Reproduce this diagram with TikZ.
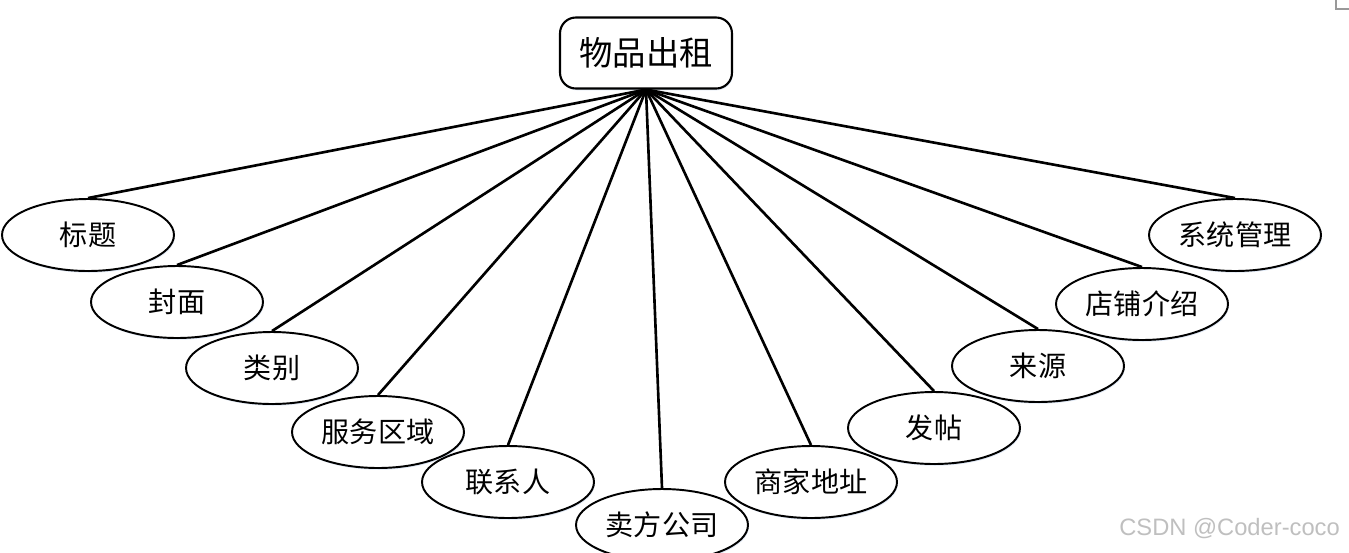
\documentclass[tikz,border=0pt]{standalone}
\usepackage{fontspec}
\setmainfont{Liberation Sans}
\newfontfamily\cjk{Noto Sans CJK SC}
\usetikzlibrary{shapes.geometric,shadows}
\definecolor{glow}{HTML}{C9D8EE}

\begin{document}
\begin{tikzpicture}[x=0.02cm,y=-0.02cm,
 attr/.style={ellipse,draw,line width=1.1pt,fill=white,minimum width=3.44cm,minimum height=1.44cm,inner sep=0pt,
  font=\cjk\fontsize{16}{16}\selectfont,
  drop shadow={shadow xshift=0.5pt,shadow yshift=-1pt,opacity=0.6,fill=glow}},
 entity/.style={draw,line width=1.2pt,rounded corners=9pt,fill=white,minimum width=3.44cm,minimum height=1.42cm,
  font=\cjk\fontsize{19}{19}\selectfont,
  drop shadow={shadow xshift=0.5pt,shadow yshift=-1pt,opacity=0.6,fill=glow}},
 link/.style={line width=1.5pt}]
 \useasboundingbox (0,0) rectangle (1349,552);
 % entity
 \node[entity] (rent) at (646,53) {物品出租};
 % attributes
 \node[attr] (title) at (88,235) {标题};
 \node[attr] (cover) at (177,302) {封面};
 \node[attr] (kind) at (272,368) {类别};
 \node[attr] (area) at (378,432) {服务区域};
 \node[attr] (contact) at (508,482) {联系人};
 \node[attr] (seller) at (662,525) {卖方公司};
 \node[attr] (addr) at (811,482) {商家地址};
 \node[attr] (post) at (934,428) {发帖};
 \node[attr] (source) at (1038,366) {来源};
 \node[attr] (shop) at (1142,304) {店铺介绍};
 \node[attr] (sys) at (1235,235) {系统管理};
 % connectors
 \foreach \a in {title,cover,kind,area,contact,seller,addr,post,source,shop,sys}
  \draw[link] (rent.south) -- (\a.north);
 \node[text=black!25,font=\fontsize{13.5}{13.5}\selectfont,anchor=east] (mark) at (1346,529) {CSDN @Coder-coco};
 \draw[black!40,line width=0.6pt] (1336,0) -- (1336,9) -- (1349,9);
\end{tikzpicture}
\end{document}
